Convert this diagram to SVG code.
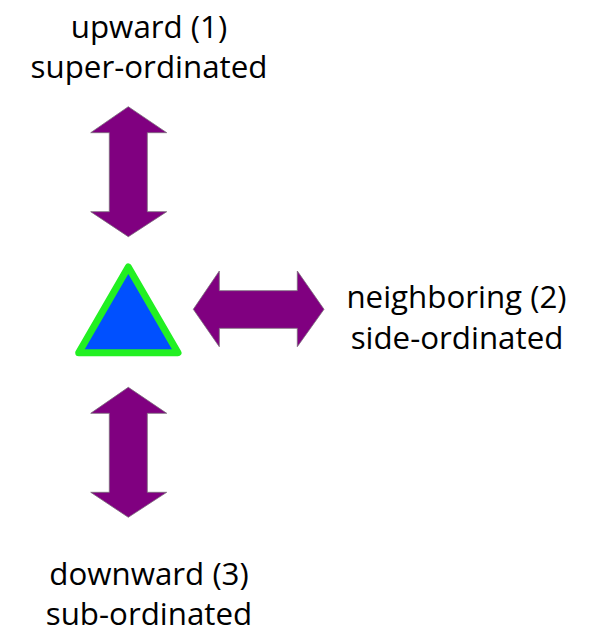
<svg xmlns="http://www.w3.org/2000/svg" width="594" height="634" viewBox="0 0 594 634">
<style>
.lbl{font-family:"Open Sans","Liberation Sans",sans-serif;font-size:31.3px;fill:#000;text-anchor:middle}
.arr{fill:#800080;stroke:#7a6a7a;stroke-width:0.8}
</style>
<rect width="594" height="634" fill="#fff"/>
<g id="connectors">
<polygon id="arrow-up" class="arr" points="128.3,106.7 166.7,132.7 147.3,132.7 147.3,211.7 166.7,211.7 128.3,236.7 90.7,211.7 109.3,211.7 109.3,132.7 90.7,132.7"/>
<polygon id="arrow-side" class="arr" points="193.3,309.3 219.3,271 219.3,290.7 297.3,290.7 297.3,271 324,309.3 297.3,346.7 297.3,328.3 219.3,328.3 219.3,346.7"/>
<polygon id="arrow-down" class="arr" points="128.3,387.3 166.7,413.3 147.3,413.3 147.3,492.3 166.7,492.3 128.3,517.3 90.7,492.3 109.3,492.3 109.3,413.3 90.7,413.3"/>
</g>
<g id="self">
<polygon points="128.3,267 178,352.7 78.7,352.7" fill="#0050ff" stroke="#22f022" stroke-width="7" stroke-linejoin="round"/>
</g>
<g id="upward">
<text class="lbl" x="149" y="38">upward (1)</text>
<text class="lbl" x="149" y="78">super-ordinated</text>
</g>
<g id="neighboring">
<text class="lbl" x="456.5" y="307.5">neighboring (2)</text>
<text class="lbl" x="457" y="349">side-ordinated</text>
</g>
<g id="downward">
<text class="lbl" x="149" y="585">downward (3)</text>
<text class="lbl" x="149" y="625">sub-ordinated</text>
</g>
</svg>
